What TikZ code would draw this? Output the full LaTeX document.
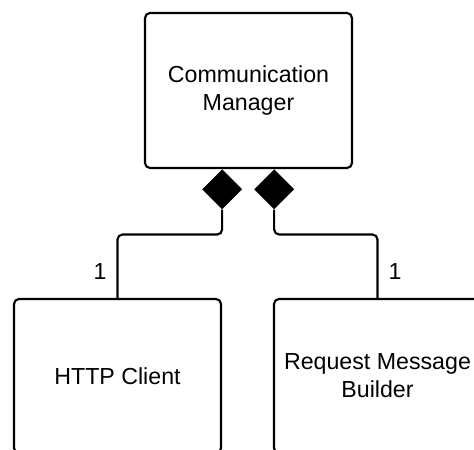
\documentclass[tikz,border=0pt]{standalone}
\usepackage{fontspec}
\setmainfont{Liberation Sans}
\usepackage{tikz}
\usetikzlibrary{shapes.geometric,positioning,calc}

\begin{document}
\begin{tikzpicture}[
    umlclass/.style={rectangle, draw, line width=1.8pt, rounded corners=0.15cm, minimum width=6.21cm, minimum height=4.62cm, align=center, fill=white, font=\fontsize{19.8}{23.9}\selectfont},
    agg/.style={diamond, fill=black, draw=none, minimum width=1.2cm, minimum height=1.2cm, inner sep=0pt},
    link/.style={line width=1.8pt, rounded corners=0.15cm},
    mult/.style={font=\fontsize{19.8}{23.9}\selectfont, inner sep=0pt}
]

% Page frame
\clip (0,0) rectangle (14.22,13.5);

% Classes
\node[umlclass, minimum height=4.65cm] (mgr) at (7.455,10.785) {Communication\\Manager};
\node[umlclass] (http) at (3.525,2.22) {HTTP Client};
\node[umlclass] (req) at (11.325,2.22) {Request Message\\Builder};

% Composition diamonds
\node[agg, anchor=north] (dl) at ([xshift=-0.79cm]mgr.south) {};
\node[agg, anchor=north] (dr) at ([xshift=0.77cm]mgr.south) {};

% Connectors
\draw[link] (dl.south) -- ++(0,-0.75) -| (http.north);
\draw[link] (dr.south) -- ++(0,-0.75) -| (req.north);

% Multiplicities
\node[mult] (m1) at (3.0,5.34) {1};
\node[mult] (m2) at (11.85,5.34) {1};

\end{tikzpicture}
\end{document}
